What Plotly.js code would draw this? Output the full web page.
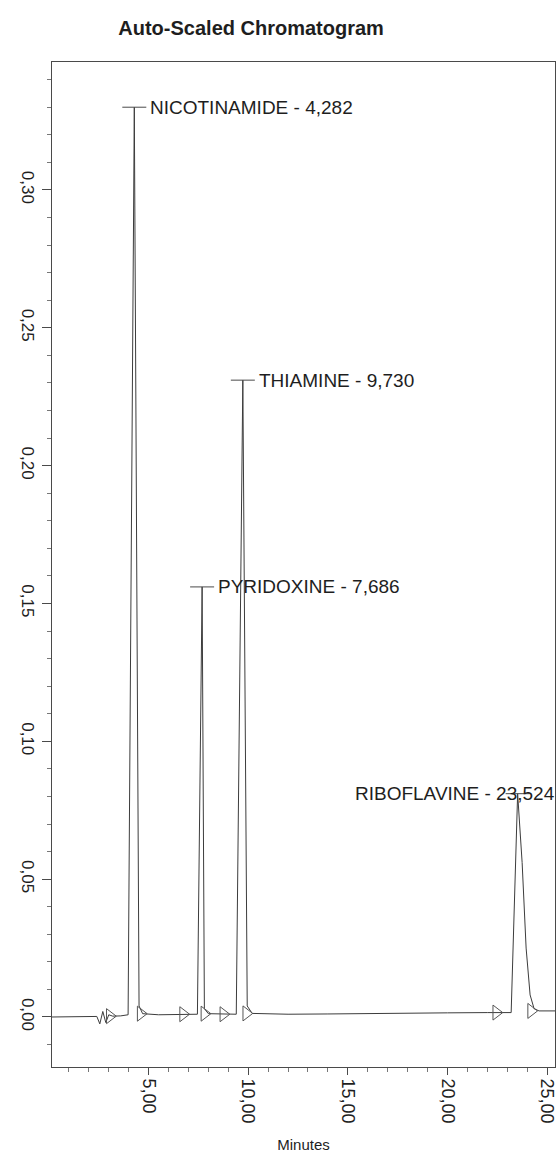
<!DOCTYPE html>
<html>
<head>
<meta charset="utf-8">
<script src="https://cdn.plot.ly/plotly-3.0.1.min.js"></script>
<style>
html,body{margin:0;padding:0;background:#fff;}
#chart{width:558px;height:1153px;}
</style>
</head>
<body>
<div id="chart"></div>
<script>
// Detector trace (minutes, AU)
const timeMin = [0.15, 1.5, 2.4, 2.55, 2.7, 2.85, 3.0, 3.2, 3.6, 3.97, 4.282, 4.52, 4.7, 5.5, 6.5, 7.45, 7.686, 7.8, 8.0, 8.8, 9.4, 9.73, 9.95, 10.2, 12, 14, 16, 18, 20, 22, 23.2, 23.524, 23.75, 23.95, 24.15, 24.35, 24.6, 25.4];
const absorbance = [0.0, 0.0, 0.0002, -0.0025, 0.002, -0.002, 0.0008, 0.0003, 0.0004, 0.0008, 0.330, 0.004, 0.0012, 0.0008, 0.0009, 0.001, 0.156, 0.003, 0.0012, 0.0010, 0.001, 0.231, 0.004, 0.0013, 0.0010, 0.0011, 0.0013, 0.0014, 0.0015, 0.0016, 0.0016, 0.081, 0.056, 0.025, 0.008, 0.003, 0.0022, 0.0022];

// Peak start / end markers
const markerTimes = [3.05, 4.6, 6.73, 7.8, 8.75, 9.9, 22.45, 24.2];
const markerValues = [0.0003, 0.0012, 0.001, 0.0012, 0.001, 0.0013, 0.0016, 0.0022];

// Peak labels
const peakTimes = [4.282, 7.686, 9.730, 23.524];
const peakHeights = [0.330, 0.156, 0.231, 0.081];
const peakLabels = ["NICOTINAMIDE - 4,282", "PYRIDOXINE - 7,686", "THIAMINE - 9,730", "RIBOFLAVINE - 23,524"];
const peakLabelSide = ["left", "left", "left", "right"];

// Ticks
const xTickVals = [5, 10, 15, 20, 25];
const yTickVals = [0, 0.05, 0.10, 0.15, 0.20, 0.25, 0.30];
const yTickText = ["0,00", "0,05", "0,10", "0,15", "0,20", "0,25", "0,30"];

const lineColor = '#4a4a4a';
const textColor = '#1e1e1e';
const fontFam = 'Liberation Sans, Arial, sans-serif';

const traces = [
  {
    x: timeMin, y: absorbance, type: 'scatter', mode: 'lines',
    line: {color: '#3c3c3c', width: 1}, hoverinfo: 'skip'
  },
  {
    x: markerTimes, y: markerValues, type: 'scatter', mode: 'markers',
    marker: {symbol: 'triangle-right-open', size: 13, color: '#555', line: {width: 1, color: '#555'}},
    hoverinfo: 'skip'
  }
];

const annotations = peakLabels.map((t, i) => ({
  x: peakTimes[i], y: peakHeights[i], xref: 'x', yref: 'y',
  text: t, showarrow: false,
  xanchor: peakLabelSide[i], yanchor: 'middle',
  xshift: peakLabelSide[i] === 'left' ? 14 : 39,
  font: {family: fontFam, size: 19, color: textColor}
}));

const shapes = peakTimes.map((t, i) => ({
  type: 'line', xref: 'x', yref: 'y', xsizemode: 'pixel', xanchor: t,
  x0: -12, x1: 12, y0: peakHeights[i], y1: peakHeights[i],
  line: {color: lineColor, width: 1}
}));

const layout = {
  width: 558, height: 1153,
  margin: {l: 52, r: 3, t: 62, b: 86},
  paper_bgcolor: '#fff', plot_bgcolor: '#fff',
  showlegend: false,
  separators: ',.',
  font: {family: fontFam, color: textColor},
  title: {
    text: '<b>Auto-Scaled Chromatogram</b>',
    font: {family: fontFam, size: 20, color: textColor},
    xref: 'container', yref: 'container', x: 0.45, y: 0.976, xanchor: 'center', yanchor: 'middle'
  },
  xaxis: {
    range: [0.15, 25.4],
    tickvals: xTickVals, tickformat: '.2f', tickangle: 90,
    ticks: 'outside', ticklen: 7, tickcolor: lineColor, tickwidth: 1,
    minor: {dtick: 1, ticks: 'outside', ticklen: 4, tickcolor: '#777', showgrid: false},
    showline: true, linecolor: lineColor, linewidth: 1, mirror: true,
    showgrid: false, zeroline: false,
    tickfont: {family: fontFam, size: 18, color: textColor},
    title: {text: 'Minutes', font: {family: fontFam, size: 15, color: textColor}, standoff: 17}
  },
  yaxis: {
    range: [-0.01814, 0.3464],
    tickvals: yTickVals, ticktext: yTickText, tickangle: 90,
    ticks: 'outside', ticklen: 9, tickcolor: lineColor, tickwidth: 1,
    minor: {dtick: 0.01, ticks: 'outside', ticklen: 4, tickcolor: '#777', showgrid: false},
    showline: true, linecolor: lineColor, linewidth: 1, mirror: true,
    showgrid: false, zeroline: false,
    tickfont: {family: fontFam, size: 17, color: textColor}
  },
  annotations: annotations,
  shapes: shapes
};

Plotly.newPlot('chart', traces, layout, {displayModeBar: false, staticPlot: true});
</script>
</body>
</html>
